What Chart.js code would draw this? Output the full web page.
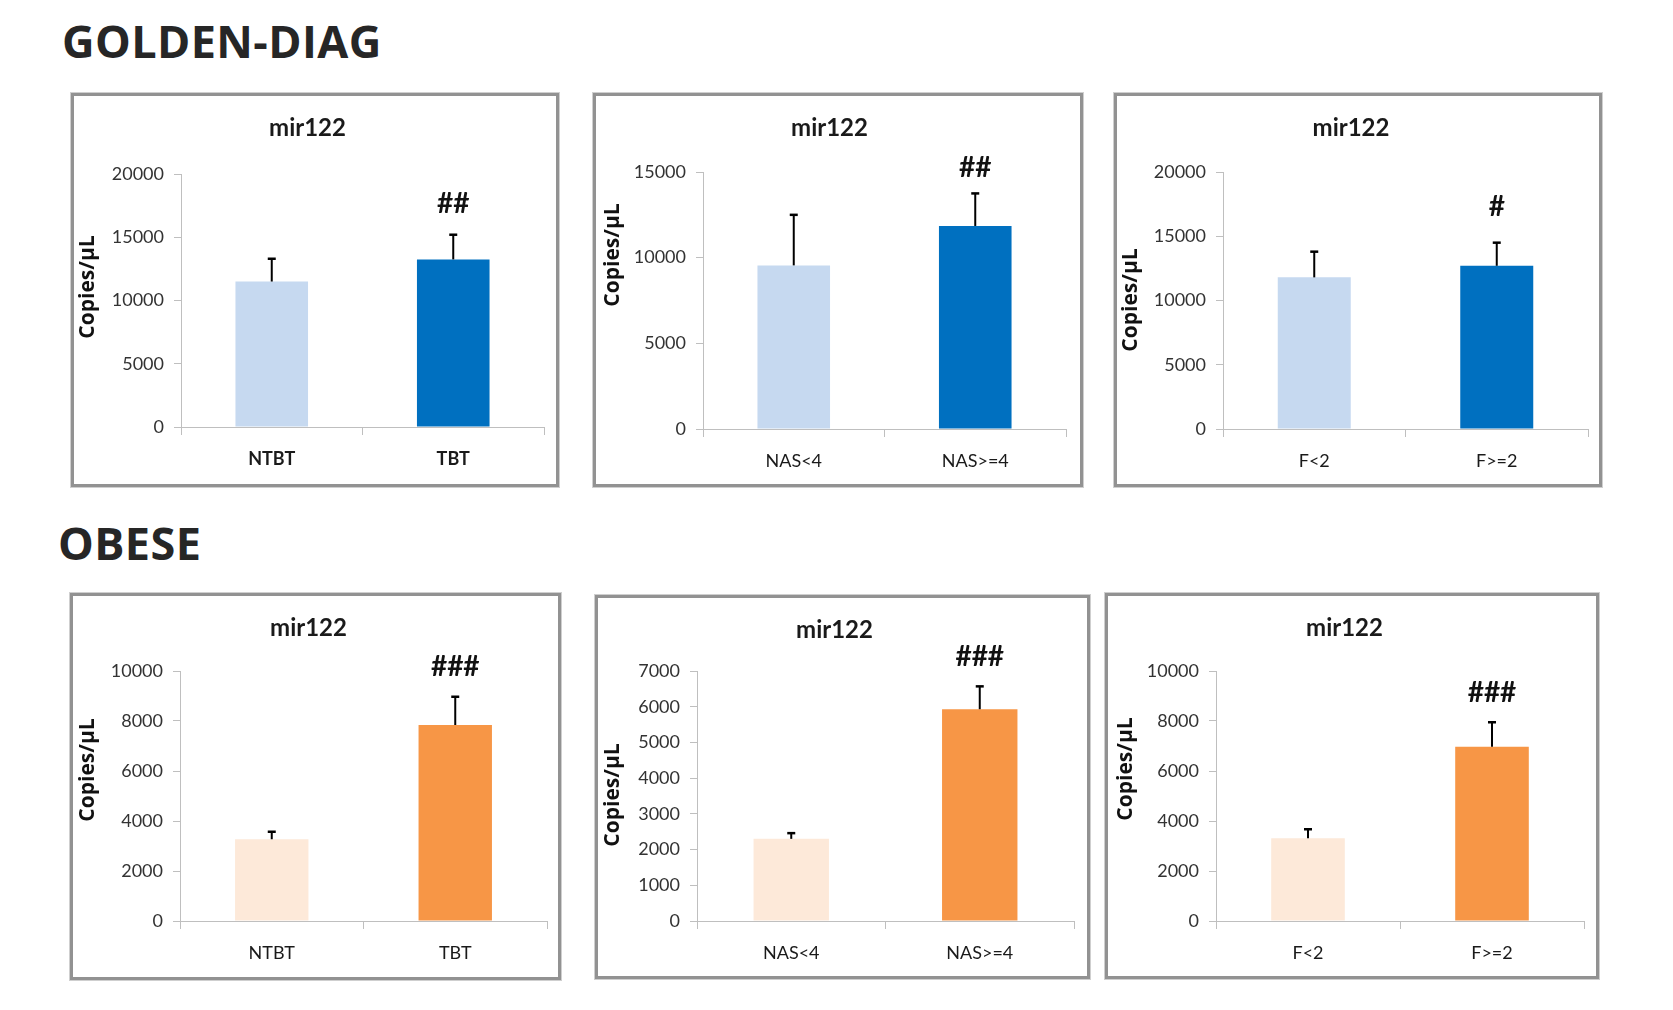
<!DOCTYPE html>
<html>
<head>
<meta charset="utf-8">
<script src="https://cdn.jsdelivr.net/npm/chart.js@4.4.1/dist/chart.umd.min.js"></script>
<style>
  html, body { margin: 0; padding: 0; background: #ffffff; }
  body { width: 1673px; height: 1010px; position: relative; overflow: hidden; }
  .heading { position: absolute; font-family: 'Open Sans', 'Noto Sans', sans-serif; font-weight: 700;
             font-size: 45px; line-height: 1; color: #262626; letter-spacing: 0.4px; white-space: nowrap; }
  .box { position: absolute; box-sizing: border-box; border: 3px solid #929292;
         box-shadow: 0 0 0 1px #cfcfcf; background: #fff; }
  canvas { position: absolute; }
</style>
</head>
<body>
<div class="heading" id="h1" style="left:62px; top:18px;">GOLDEN-DIAG</div>
<div class="heading" id="h2" style="left:58px; top:520px;">OBESE</div>
<script>
// ---------------- DATA ----------------
const catsTumor = ['NTBT', 'TBT'];
const catsNAS = ['NAS<4', 'NAS>=4'];
const catsFib = ['F<2', 'F>=2'];

// GOLDEN-DIAG cohort (mean copies/µL and error bar size)
const goldenTumorMean = [11500, 13250];
const goldenTumorErr  = [1800, 1950];
const goldenNASMean   = [9550, 11850];
const goldenNASErr    = [2950, 1900];
const goldenFibMean   = [11800, 12700];
const goldenFibErr    = [2000, 1800];

// OBESE cohort
const obeseTumorMean = [3270, 7840];
const obeseTumorErr  = [300, 1130];
const obeseNASMean   = [2300, 5930];
const obeseNASErr    = [160, 640];
const obeseFibMean   = [3310, 6970];
const obeseFibErr    = [360, 980];

// significance marks
const marksGoldenTumor = ['', '##'];
const marksGoldenNAS   = ['', '##'];
const marksGoldenFib   = ['', '#'];
const marksObese       = ['', '###'];

// y-axis tick settings [max, step]
const yTicksGolden1 = [20000, 5000];
const yTicksGolden2 = [15000, 5000];
const yTicksGolden3 = [20000, 5000];
const yTicksObese1  = [10000, 2000];
const yTicksObese2  = [7000, 1000];
const yTicksObese3  = [10000, 2000];

const chartTitle = 'mir122';
const yTitle = 'Copies/µL';

// ---------------- STYLE / LAYOUT ----------------
const FONT_N = "Lato, 'Open Sans', sans-serif";
const blueColors = ['#c6d9f0', '#0070c0'];
const orangeColors = ['#fde9d9', '#f79646'];

const panels = [
  { cats: catsTumor, mean: goldenTumorMean, err: goldenTumorErr, marks: marksGoldenTumor, colors: blueColors, yt: yTicksGolden1,
    box: [71, 93, 488, 394], plot: [181, 174, 544, 427], ytPos: [88, 287], markOff: 31, boldX: true },
  { cats: catsNAS, mean: goldenNASMean, err: goldenNASErr, marks: marksGoldenNAS, colors: blueColors, yt: yTicksGolden2,
    box: [593, 93, 490, 394], plot: [703, 172, 1066, 429], ytPos: [613, 255], markOff: 25, boldX: false },
  { cats: catsFib, mean: goldenFibMean, err: goldenFibErr, marks: marksGoldenFib, colors: blueColors, yt: yTicksGolden3,
    box: [1114, 93, 488, 394], plot: [1223, 172, 1588, 429], ytPos: [1131, 300], markOff: 36, boldX: false },
  { cats: catsTumor, mean: obeseTumorMean, err: obeseTumorErr, marks: marksObese, colors: orangeColors, yt: yTicksObese1,
    box: [70, 593, 491, 387], plot: [180, 671, 547, 921], ytPos: [88, 770], markOff: 30, boldX: false },
  { cats: catsNAS, mean: obeseNASMean, err: obeseNASErr, marks: marksObese, colors: orangeColors, yt: yTicksObese2,
    box: [595, 595, 495, 384], plot: [697, 671, 1074, 921], ytPos: [613, 795], markOff: 29, boldX: false },
  { cats: catsFib, mean: obeseFibMean, err: obeseFibErr, marks: marksObese, colors: orangeColors, yt: yTicksObese3,
    box: [1105, 593, 494, 386], plot: [1216, 671, 1584, 921], ytPos: [1126, 769], markOff: 29, boldX: false }
];

const overlay = {
  id: 'overlay',
  afterDatasetsDraw(chart, args, opts) {
    const ctx = chart.ctx;
    const meta = chart.getDatasetMeta(0);
    const ys = chart.scales.y;
    const vals = chart.data.datasets[0].data;
    ctx.save();
    meta.data.forEach((bar, i) => {
      const top = ys.getPixelForValue(vals[i]);
      const et = ys.getPixelForValue(vals[i] + opts.err[i]);
      ctx.strokeStyle = '#000';
      ctx.lineWidth = 2;
      ctx.beginPath(); ctx.moveTo(bar.x, top); ctx.lineTo(bar.x, et); ctx.stroke();
      ctx.lineWidth = 2.5;
      ctx.beginPath(); ctx.moveTo(bar.x - 4, et); ctx.lineTo(bar.x + 4, et); ctx.stroke();
      if (opts.marks[i]) {
        ctx.font = 'bold 28px ' + FONT_N;
        ctx.fillStyle = '#111';
        ctx.textAlign = 'center';
        ctx.textBaseline = 'middle';
        ctx.fillText(opts.marks[i], bar.x, et - opts.markOff);
      }
    });
    ctx.translate(opts.ytPos[0], opts.ytPos[1]);
    ctx.rotate(-Math.PI / 2);
    ctx.font = "bold 21px 'Open Sans', 'Noto Sans', sans-serif";
    ctx.fillStyle = '#111';
    ctx.textAlign = 'center';
    ctx.textBaseline = 'middle';
    ctx.fillText(yTitle, 0, 0);
    ctx.restore();
  }
};

panels.forEach((p) => {
  const [bx, by, bw, bh] = p.box;
  const [pl, pt, pr, pb] = p.plot;
  const div = document.createElement('div');
  div.className = 'box';
  div.style.left = bx + 'px'; div.style.top = by + 'px';
  div.style.width = bw + 'px'; div.style.height = bh + 'px';
  document.body.appendChild(div);

  const cv = document.createElement('canvas');
  cv.width = bw; cv.height = bh;
  cv.style.left = bx + 'px'; cv.style.top = by + 'px';
  cv.style.width = bw + 'px'; cv.style.height = bh + 'px';
  document.body.appendChild(cv);

  const titleSize = 24;
  const titleLH = titleSize * 1.2;
  const titleCenter = 35;
  const tPadTop = titleCenter - titleLH / 2;
  const tPadBottom = (pt - by) - tPadTop - titleLH;
  const yAxisWidth = pl - bx;
  const xAxisHeight = (by + bh) - pb;

  new Chart(cv, {
    type: 'bar',
    data: {
      labels: p.cats,
      datasets: [{
        data: p.mean,
        backgroundColor: p.colors,
        borderWidth: 0,
        barPercentage: 0.4,
        categoryPercentage: 1.0
      }]
    },
    plugins: [overlay],
    options: {
      responsive: false,
      animation: false,
      devicePixelRatio: 1,
      layout: { padding: { left: 0, top: 0, bottom: 0, right: (bx + bw) - pr } },
      plugins: {
        legend: { display: false },
        tooltip: { enabled: false },
        title: {
          display: true,
          text: chartTitle,
          color: '#1a1a1a',
          font: { family: FONT_N, size: titleSize, weight: 'bold', lineHeight: 1.2 },
          padding: { top: tPadTop, bottom: tPadBottom }
        },
        overlay: { err: p.err, marks: p.marks, markOff: p.markOff,
                   ytPos: [p.ytPos[0] - bx, p.ytPos[1] - by] }
      },
      scales: {
        x: {
          type: 'category',
          offset: true,
          grid: { display: true, drawOnChartArea: false, drawTicks: true, tickLength: 8, color: '#bfbfbf', offset: true },
          border: { display: true, color: '#bfbfbf', width: 1 },
          ticks: { color: '#1a1a1a', padding: 13, maxRotation: 0,
                   font: { family: FONT_N, size: 18, weight: p.boldX ? 'bold' : 'normal' } },
          afterFit: (s) => { s.height = xAxisHeight; }
        },
        y: {
          min: 0,
          max: p.yt[0],
          grid: { display: true, drawOnChartArea: false, drawTicks: true, tickLength: 7, color: '#bfbfbf' },
          border: { display: true, color: '#bfbfbf', width: 1 },
          ticks: { stepSize: p.yt[1], color: '#333333', padding: 10,
                   font: { family: FONT_N, size: 18 },
                   callback: (v) => String(v) },
          afterFit: (s) => { s.width = yAxisWidth; }
        }
      }
    }
  });
});
</script>
</body>
</html>
